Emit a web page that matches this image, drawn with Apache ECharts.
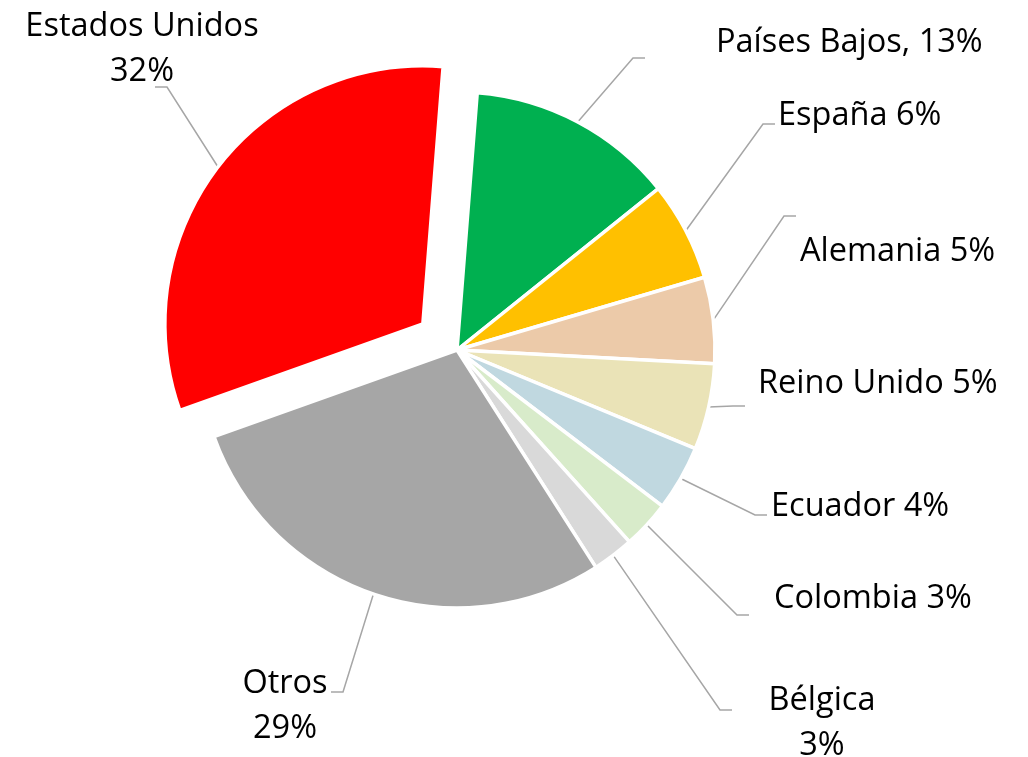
<!DOCTYPE html>
<html>
<head>
<meta charset="utf-8">
<script src="https://cdn.jsdelivr.net/npm/echarts@6/dist/echarts.min.js"></script>
<style>
  html, body { margin: 0; padding: 0; background: #fff; }
  #chart { width: 1028px; height: 757px; }
</style>
</head>
<body>
<div id="chart"></div>
<script>
// data, clockwise from 12 o'clock
const categories = ['Países Bajos', 'España', 'Alemania', 'Reino Unido', 'Ecuador', 'Colombia', 'Bélgica', 'Otros', 'Estados Unidos']
const shares = [13.0, 6.2, 5.4, 5.4, 4.1, 3.0, 2.6, 28.6, 31.7]
const colors = ['#00B050', '#FFC000', '#ECCAA9', '#EAE3B7', '#C0D8E0', '#D8EBCA', '#D9D9D9', '#A6A6A6', '#FF0000']
const labelSeparators = [', ', ' ', ' ', ' ', ' ', ' ', '\n', '\n', '\n']

// label placement (text anchor x, y, align) and leader elbow, px
const labelAnchors = [
  [716, 43, 'left'],
  [778, 116, 'left'],
  [800, 252, 'left'],
  [758, 384, 'left'],
  [771, 507, 'left'],
  [774, 599, 'left'],
  [822, 723, 'center'],
  [285, 706, 'center'],
  [142, 49, 'center'],
]
const leaderElbows = [
  [633, 58], [763, 124], [784, 216], [733, 406], [755, 515],
  [737, 615], [720, 710], [343, 692], [167, 87],
]

const center = [457, 350]
const radius = 258
const startAngle = 85.5
const explode = 43
const explodedIndex = categories.length - 1

const total = shares.reduce((a, b) => a + b, 0)
const before = shares.slice(0, explodedIndex).reduce((a, b) => a + b, 0)
const midDeg = startAngle - 360 * (before + shares[explodedIndex] / 2) / total
const midRad = midDeg * Math.PI / 180
const explodedCenter = [center[0] + explode * Math.cos(midRad), center[1] - explode * Math.sin(midRad)]

const hidden = {
  itemStyle: { color: 'rgba(0,0,0,0)', borderWidth: 0 },
  label: { show: false },
  labelLine: { show: false },
}

function placeLabel(params) {
  const i = params.dataIndex
  const a = labelAnchors[i]
  const e = leaderElbows[i]
  const start = params.labelLinePoints ? params.labelLinePoints[0] : e
  const tail = e[0] < a[0] ? 12 : -12
  return {
    x: a[0],
    y: a[1],
    align: a[2],
    verticalAlign: 'middle',
    labelLinePoints: [start, e, [e[0] + tail, e[1]]],
  }
}

function makeSeries(c, showIndex) {
  return {
    type: 'pie',
    center: c,
    radius: radius,
    startAngle: startAngle,
    clockwise: true,
    avoidLabelOverlap: false,
    silent: true,
    emphasis: { disabled: true },
    itemStyle: { borderColor: '#fff', borderWidth: 3.5 },
    label: {
      show: true,
      position: 'outside',
      fontFamily: 'Open Sans',
      fontSize: 32.5,
      lineHeight: 45,
      color: '#000',
      formatter: p => p.name + labelSeparators[p.dataIndex] + Math.round(p.percent) + '%',
    },
    labelLine: {
      show: true,
      lineStyle: { color: '#A6A6A6', width: 1.5 },
    },
    labelLayout: placeLabel,
    data: categories.map((name, i) => {
      const item = { name: name, value: shares[i], itemStyle: { color: colors[i] } }
      return showIndex(i) ? item : Object.assign(item, hidden)
    }),
  }
}

const chart = echarts.init(document.getElementById('chart'))
chart.setOption({
  animation: false,
  series: [
    makeSeries(center, i => i !== explodedIndex),
    makeSeries(explodedCenter, i => i === explodedIndex),
  ],
})
</script>
</body>
</html>
